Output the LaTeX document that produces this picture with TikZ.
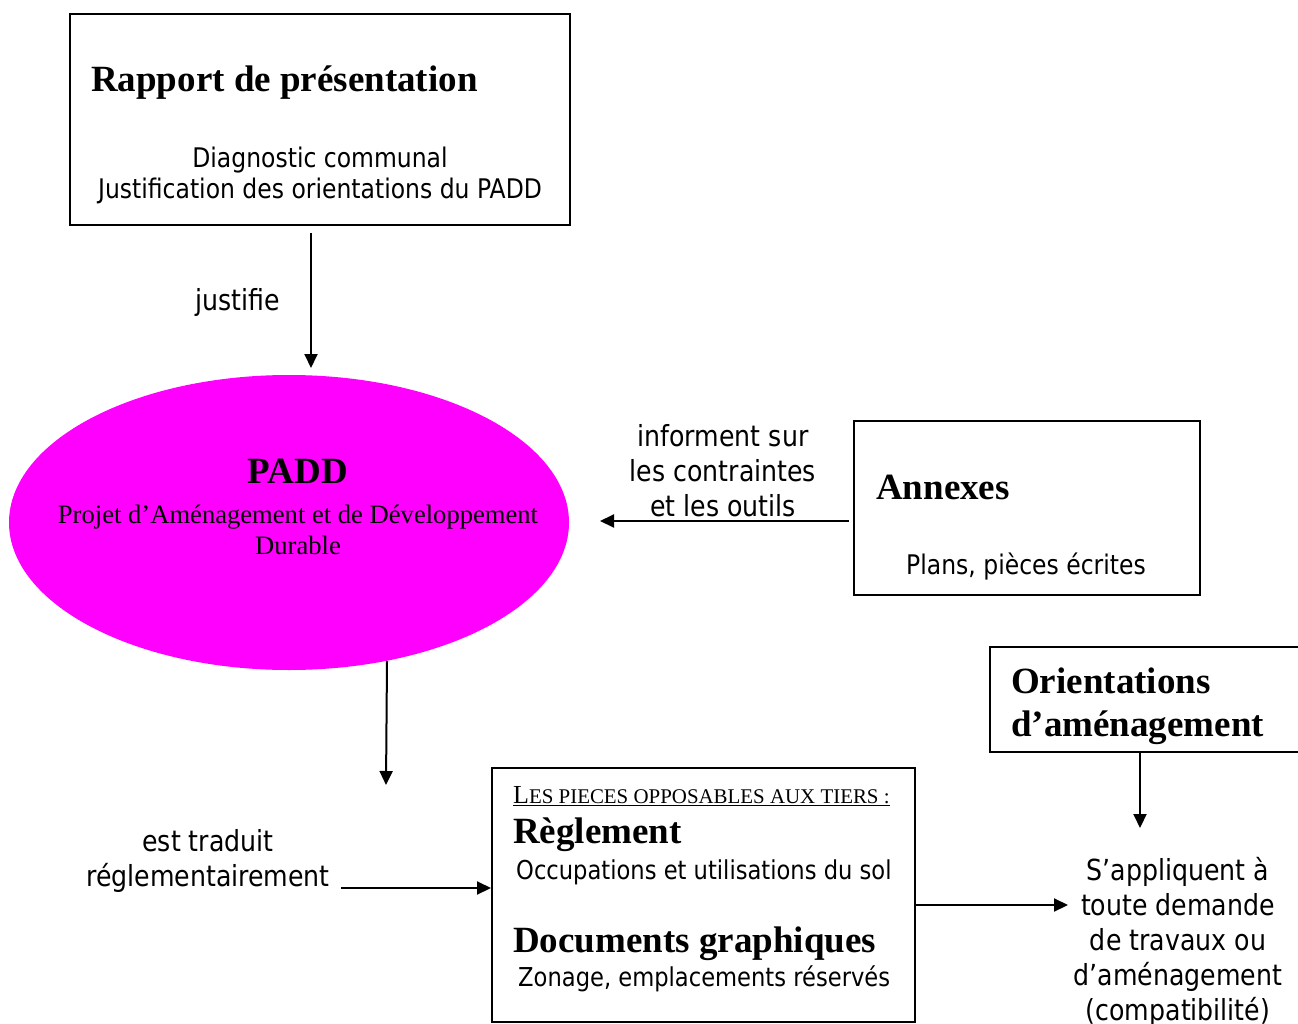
\documentclass[tikz,border=0pt]{standalone}
\usepackage{fontspec}
\setmainfont{Liberation Serif}
\newfontfamily\tah[FakeStretch=0.87]{DejaVu Sans}
\usetikzlibrary{shapes.geometric,arrows.meta}
\tikzset{
  boxnode/.style={draw, line width=2pt, inner sep=0pt, rectangle},
  lab/.style={font=\tah\fontsize{27}{31}\selectfont, inner sep=0pt, align=center},
  outlab/.style={font=\tah\fontsize{29}{35}\selectfont, inner sep=0pt, align=center},
  ttl/.style={font=\bfseries\fontsize{37}{43}\selectfont, inner sep=0pt, align=left},
  ser/.style={font=\fontsize{26.6}{31}\selectfont, inner sep=0pt, align=center},
  arr/.style={line width=2pt, -{Triangle[length=14pt,width=13pt]}}
}
\begin{document}
\begin{tikzpicture}[x=1pt,y=-1pt]
\useasboundingbox (0,0) rectangle (1298,1024);
% boxes
\node[boxnode, minimum width=500pt, minimum height=211pt] (rapport) at (320,119.5) {};
\node[fill={rgb,255:red,255;green,0;blue,255}, ellipse, inner sep=0pt, minimum width=560pt, minimum height=295pt] (padd) at (289,522.5) {};
\node[boxnode, minimum width=346pt, minimum height=174pt] (annexes) at (1027,508) {};
\node[boxnode, minimum width=330pt, minimum height=105pt] (orient) at (1155,699.5) {};
\node[boxnode, minimum width=423pt, minimum height=254pt] (regl) at (703.5,895) {};
% texts
\node[ttl, anchor=base west] (rapportT) at (91,92) {Rapport de présentation};
\node[lab, anchor=base] (rapportS) at (320,199) {Diagnostic communal\\Justification des orientations du PADD};
\node[outlab, anchor=base] (justifie) at (238,310) {justifie};
\node[ttl, anchor=base] (paddT) at (298,483) {PADD};
\node[ser, anchor=base] (paddS) at (298,554) {Projet d’Aménagement et de Développement\\Durable};
\node[outlab, anchor=base] (inform) at (723,516) {informent sur\\les contraintes\\et les outils};
\node[ttl, anchor=base west] (annexesT) at (876,499) {Annexes};
\node[lab, anchor=base] (annexesS) at (1026,574) {Plans, pièces écrites};
\node[ttl, anchor=base west] (orientT) at (1011,736) {Orientations\\d’aménagement};
\node[outlab, anchor=base] (traduit) at (208,886) {est traduit\\réglementairement};
\node[inner sep=0pt, anchor=base west] (pieces) at (513,803) {\underline{{\fontsize{26}{30}\selectfont L}{\fontsize{20.9}{30}\selectfont ES PIECES OPPOSABLES AUX TIERS :}}};
\node[ttl, anchor=base west] (reglT) at (513,843) {Règlement};
\node[lab, anchor=base west, font=\tah\fontsize{26}{31}\selectfont] (reglS) at (516,879) {Occupations et utilisations du sol};
\node[ttl, anchor=base west] (docT) at (513,952) {Documents graphiques};
\node[lab, anchor=base west, font=\tah\fontsize{26}{31}\selectfont] (docS) at (518,986) {Zonage, emplacements réservés};
\node[outlab, anchor=base] (appl) at (1178,1020) {S’appliquent à\\toute demande\\de travaux ou\\d’aménagement\\(compatibilité)};
% connector ends
\coordinate (c1s) at (311,233);
\coordinate (c1e) at (311,368);
\coordinate (c2s) at (849,521);
\coordinate (c2e) at (600,521);
\coordinate (c3s) at (387,661);
\coordinate (c3e) at (386,785);
\coordinate (c4s) at (341,888);
\coordinate (c5e) at (1068,905);
\coordinate (c6e) at (1140,828);
% connectors
\draw[arr] (c1s) -- (c1e);
\draw[arr] (c2s) -- (c2e);
\draw[arr] (c3s) -- (c3e);
\draw[arr] (c4s) -- (regl.west |- c4s);
\draw[arr] (regl.east |- c5e) -- (c5e);
\draw[arr] (orient.south -| c6e) -- (c6e);
\end{tikzpicture}
\end{document}
